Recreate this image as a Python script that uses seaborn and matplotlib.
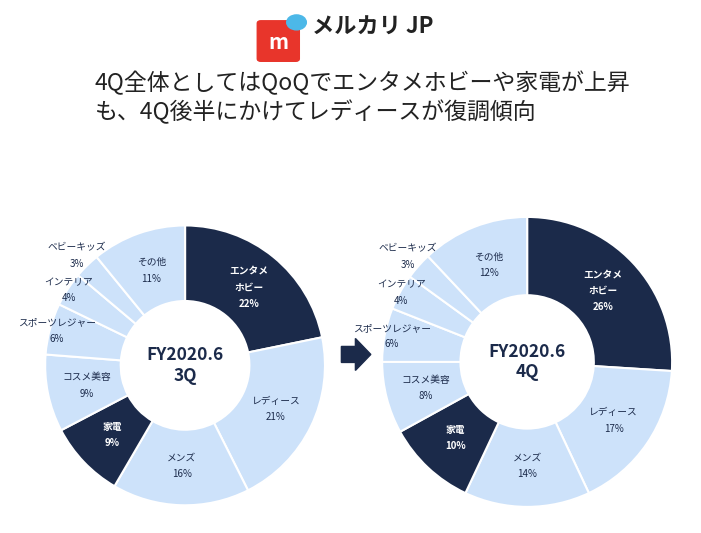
import matplotlib
matplotlib.use("Agg")
import matplotlib.pyplot as plt
import seaborn as sns
import numpy as np
from matplotlib.patches import FancyBboxPatch, Circle, FancyArrow

sns.set_theme(style="white", font="Noto Sans CJK JP")

# data
categories = ["エンタメ\nホビー", "レディース", "メンズ", "家電", "コスメ美容",
              "スポーツレジャー", "インテリア", "ベビーキッズ", "その他"]
share_3q = [22, 21, 16, 9, 9, 6, 4, 3, 11]
share_4q = [26, 17, 14, 10, 8, 6, 4, 3, 12]
dark_cats = ["エンタメ\nホビー", "家電"]
label_radius = {"スポーツレジャー": 0.95, "インテリア": 0.99, "ベビーキッズ": 1.1}

navy = "#1b2a4a"
light = "#cde2fa"
colors = [navy if c in dark_cats else light for c in categories]

fig = plt.figure(figsize=(7.01, 5.33), dpi=100)


def donut(rect, values, center_text):
    ax = fig.add_axes(rect)
    wedges, _ = ax.pie(values, colors=colors, startangle=90, counterclock=False,
                       wedgeprops=dict(width=0.54, edgecolor="white", linewidth=1.5))
    for w, cat, v in zip(wedges, categories, values):
        ang = np.deg2rad((w.theta1 + w.theta2) / 2)
        dark = cat in dark_cats
        r = label_radius.get(cat, 0.72)
        ax.text(r * np.cos(ang), r * np.sin(ang), f"{cat}\n{v}%", ha="center", va="center",
                fontsize=7, color="white" if dark else navy, linespacing=1.8,
                fontweight="bold" if dark else "normal")
    ax.text(0, 0, center_text, ha="center", va="center", fontsize=12.5,
            fontweight="bold", color=navy, linespacing=1.2)
    ax.set_aspect("equal")
    ax.set_xlim(-1, 1)
    ax.set_ylim(-1, 1)
    ax.axis("off")


donut([0.064, 0.052, 0.40, 0.525], share_3q, "FY2020.6\n3Q")
donut([0.545, 0.049, 0.414, 0.544], share_4q, "FY2020.6\n4Q")

# arrow
fig.patches.append(FancyArrow(0.487, 0.335, 0.02, 0, width=0.03, head_width=0.06,
                              head_length=0.022, color=navy, transform=fig.transFigure))

# logo
fig.patches.append(FancyBboxPatch((0.372, 0.89), 0.05, 0.066, boxstyle="round,pad=0.005",
                                  color="#e8352b", transform=fig.transFigure))
fig.text(0.397, 0.921, "m", ha="center", va="center", fontsize=15, color="white", fontweight="bold")
fig.patches.append(Circle((0.423, 0.958), 0.014, color="#4cb8e8", transform=fig.transFigure))
fig.text(0.445, 0.948, "メルカリ JP", ha="left", va="center", fontsize=16,
         fontweight="bold", color="#222222")

fig.text(0.135, 0.845, "4Q全体としてはQoQでエンタメホビーや家電が上昇", ha="left", va="center",
         fontsize=16.5, color="#222222")
fig.text(0.135, 0.79, "も、4Q後半にかけてレディースが復調傾向", ha="left", va="center",
         fontsize=16.5, color="#222222")

fig.savefig("out.png", dpi=100)
